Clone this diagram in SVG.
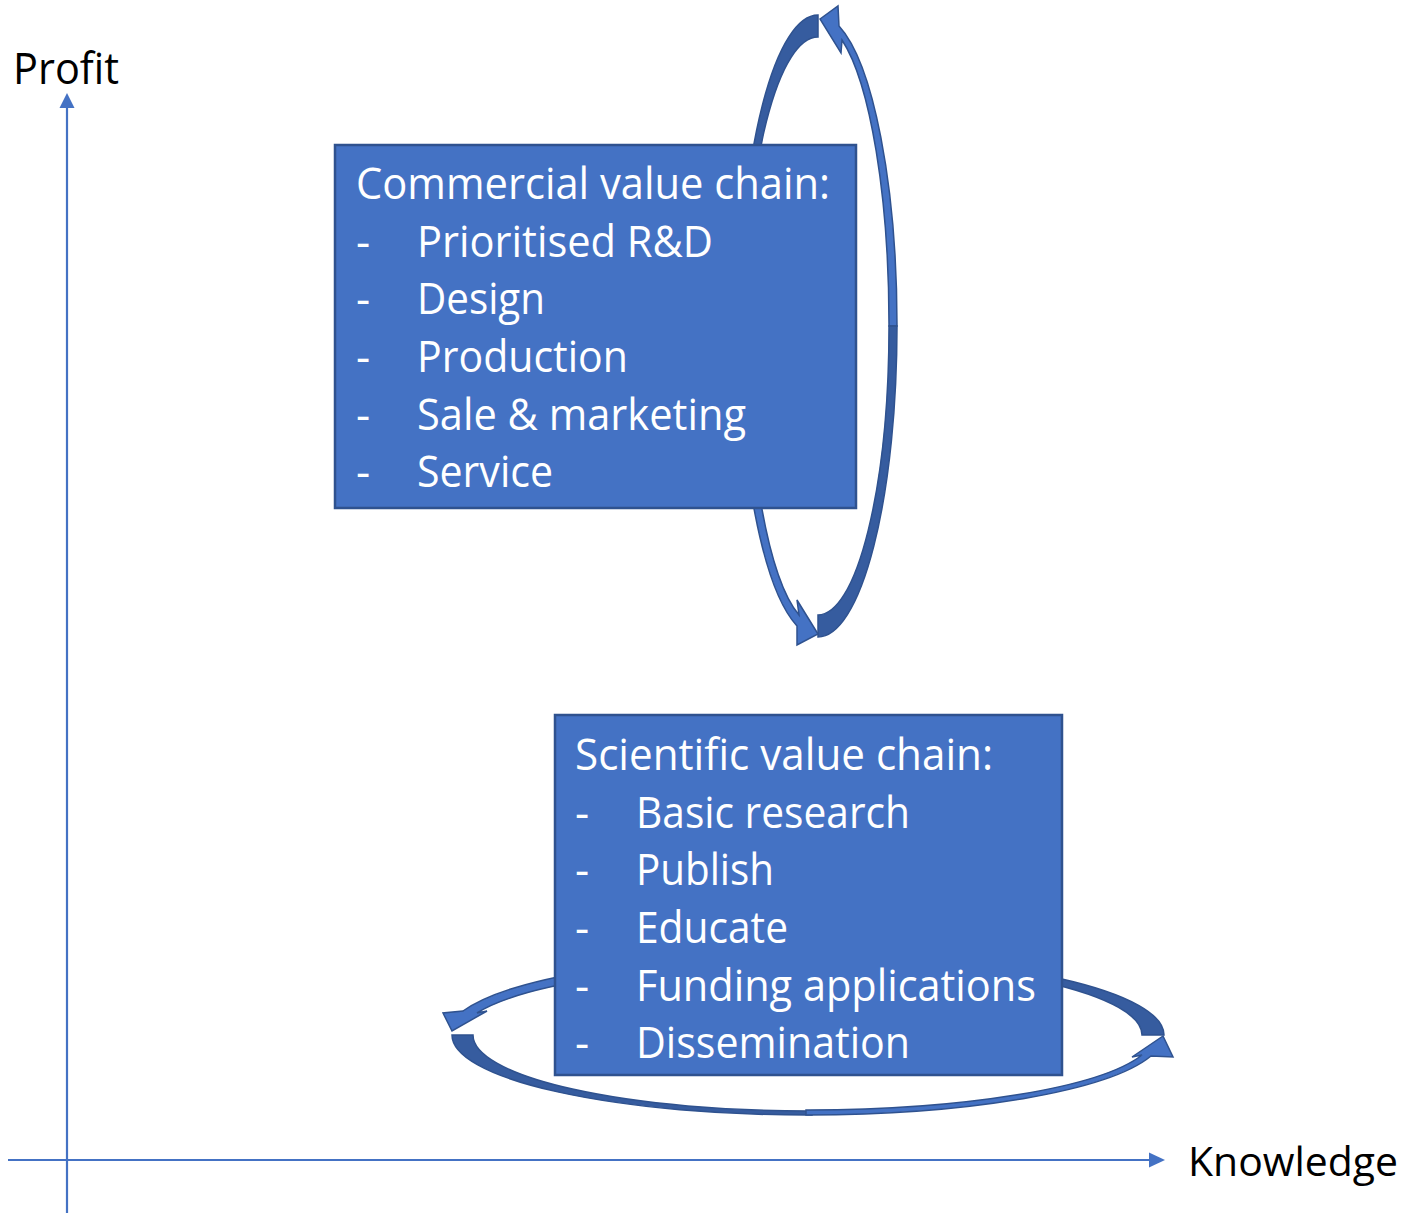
<svg xmlns="http://www.w3.org/2000/svg" width="1409" height="1213" viewBox="0 0 1409 1213">
<style>
.t{font-family:"Open Sans","Noto Sans","Liberation Sans",sans-serif;font-size:44px}
.w{fill:#FFFFFF}
.k{fill:#000000}
.box{fill:#4472C4;stroke:#2F528F;stroke-width:2.5}
.lt{fill:#4472C4;stroke:#2F528F;stroke-width:1.5;stroke-linejoin:miter}
.dk{fill:#365C9F;stroke:#2F528F;stroke-width:1.5}
.ax{stroke:#4472C4;stroke-width:2.2;fill:none}
.ah{fill:#4472C4}
</style>
<rect width="1409" height="1213" fill="#FFFFFF"/>
<g id="axes">
<line class="ax" x1="67" y1="1213" x2="67" y2="104"/>
<polygon class="ah" points="67,93 59.5,108 74.5,108"/>
<line class="ax" x1="8" y1="1160" x2="1152" y2="1160"/>
<polygon class="ah" points="1165,1160 1149,1152.5 1149,1167.5"/>
<text class="t k" x="13" y="84" textLength="106" lengthAdjust="spacingAndGlyphs">Profit</text>
<text class="t k" x="1188" y="1176" style="font-size:41px" textLength="210" lengthAdjust="spacingAndGlyphs">Knowledge</text>
</g>
<g id="connectors">
<!-- vertical loop around commercial box -->
<path class="dk" d="M818,15 A79,311 0 0 0 739,326 L745,326 A73,289 0 0 1 818,37 Z"/>
<path class="lt" d="M820,19 L838,6 L839,26 A79,311 0 0 1 897,326 L889,326 A71,302 0 0 0 842,40 L841,53 Z"/>
<path class="dk" d="M897,326 A79,311 0 0 1 818,637 L818,615 A71,289 0 0 0 889,326 Z"/>
<path class="lt" d="M739,326 A79,311 0 0 0 797,626 L797,645 L818,634 L797,600 L799,615 A71,303 0 0 1 747,326 Z"/>
<!-- horizontal loop around scientific box -->
<path class="dk" d="M808,955 A356,80 0 0 1 1164,1035 L1142,1035 A334,75 0 0 0 808,960 Z"/>
<path class="lt" d="M808,955 A356,80 0 0 0 463,1011 L443,1013 L452,1031 L487,1011 L477,1013 A345,71 0 0 1 808,964 Z"/>
<path class="dk" d="M452,1035 A356,80 0 0 0 812,1115 L812,1111 A335,76 0 0 1 473,1035 Z"/>
<path class="lt" d="M806,1115 A356,80 0 0 0 1151,1056 L1173,1057 L1163,1036 L1132,1057 L1142,1055 A346,75 0 0 1 806,1110 Z"/>
</g>
<g id="commercial">
<rect class="box" x="335" y="145" width="521" height="363"/>
<text class="t w" x="356" y="199" textLength="474" lengthAdjust="spacingAndGlyphs">Commercial value chain:</text>
<text class="t w" x="356" y="257">-</text><text class="t w" x="417" y="257" textLength="296" lengthAdjust="spacingAndGlyphs">Prioritised R&amp;D</text>
<text class="t w" x="356" y="314">-</text><text class="t w" x="417" y="314" textLength="128" lengthAdjust="spacingAndGlyphs">Design</text>
<text class="t w" x="356" y="372">-</text><text class="t w" x="417" y="372" textLength="211" lengthAdjust="spacingAndGlyphs">Production</text>
<text class="t w" x="356" y="430">-</text><text class="t w" x="417" y="430" textLength="329" lengthAdjust="spacingAndGlyphs">Sale &amp; marketing</text>
<text class="t w" x="356" y="487">-</text><text class="t w" x="417" y="487" textLength="136" lengthAdjust="spacingAndGlyphs">Service</text>
</g>
<g id="scientific">
<rect class="box" x="555" y="715" width="507" height="360"/>
<text class="t w" x="575" y="770" textLength="418" lengthAdjust="spacingAndGlyphs">Scientific value chain:</text>
<text class="t w" x="575" y="828">-</text><text class="t w" x="636" y="828" textLength="274" lengthAdjust="spacingAndGlyphs">Basic research</text>
<text class="t w" x="575" y="885">-</text><text class="t w" x="636" y="885" textLength="138" lengthAdjust="spacingAndGlyphs">Publish</text>
<text class="t w" x="575" y="943">-</text><text class="t w" x="636" y="943" textLength="152" lengthAdjust="spacingAndGlyphs">Educate</text>
<text class="t w" x="575" y="1001">-</text><text class="t w" x="636" y="1001" textLength="400" lengthAdjust="spacingAndGlyphs">Funding applications</text>
<text class="t w" x="575" y="1058">-</text><text class="t w" x="636" y="1058" textLength="274" lengthAdjust="spacingAndGlyphs">Dissemination</text>
</g>
</svg>
